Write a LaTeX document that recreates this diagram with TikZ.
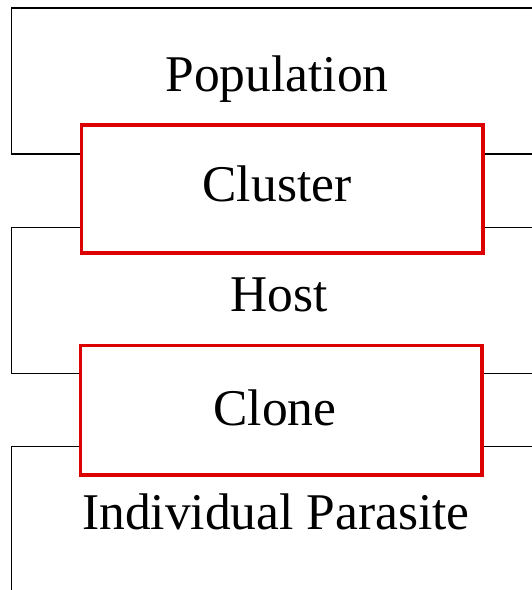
\documentclass[tikz,border=0pt]{standalone}
\usepackage{fontspec}
\setmainfont{Liberation Serif}
\definecolor{boxred}{RGB}{221,0,0}
\begin{document}
\begin{tikzpicture}[x=1pt,y=-1pt,
  level/.style={draw=boxred, line width=3.6pt, inner sep=0pt, minimum width=401.5pt},
  rail/.style={draw=black, line width=1.3pt, line join=miter},
  tag/.style={anchor=base, inner sep=0pt, font=\fontsize{51.5}{60}\selectfont}]
\useasboundingbox (0,0) rectangle (532,590);

% nested levels
\node[level, minimum height=128pt] (cluster) at (282.2,189) {};
\node[level, minimum height=129.4pt] (clone) at (281.1,410) {};

% level names
\node[tag] (population) at (277,91.7) {Population};
\node[tag] (clustertxt) at (277,201) {Cluster};
\node[tag] (host) at (279,311.7) {Host};
\node[tag] (clonetxt) at (275,425) {Clone};
\node[tag] (parasite) at (276,529.3) {Individual Parasite};

% bracket rails
\coordinate (topR) at (532,8);
\coordinate (topL) at (11.7,8);
\coordinate (a) at (11.7,154);
\coordinate (b) at (11.7,227.3);
\coordinate (c) at (11.7,373.3);
\coordinate (d) at (11.7,446.7);
\coordinate (bot) at (11.7,590);
\coordinate (aR) at (532,154);
\coordinate (bR) at (532,227.3);
\coordinate (cR) at (532,373.3);
\coordinate (dR) at (532,446.7);

\draw[rail] (topR) -- (topL) -- (a) -- (a -| cluster.west);
\draw[rail] (cluster.east |- aR) -- (aR);
\draw[rail] (bR) -- (cluster.east |- bR);
\draw[rail] (cluster.west |- b) -- (b) -- (c) -- (c -| clone.west);
\draw[rail] (clone.east |- cR) -- (cR);
\draw[rail] (dR) -- (clone.east |- dR);
\draw[rail] (clone.west |- d) -- (d) -- (bot);
\end{tikzpicture}
\end{document}
